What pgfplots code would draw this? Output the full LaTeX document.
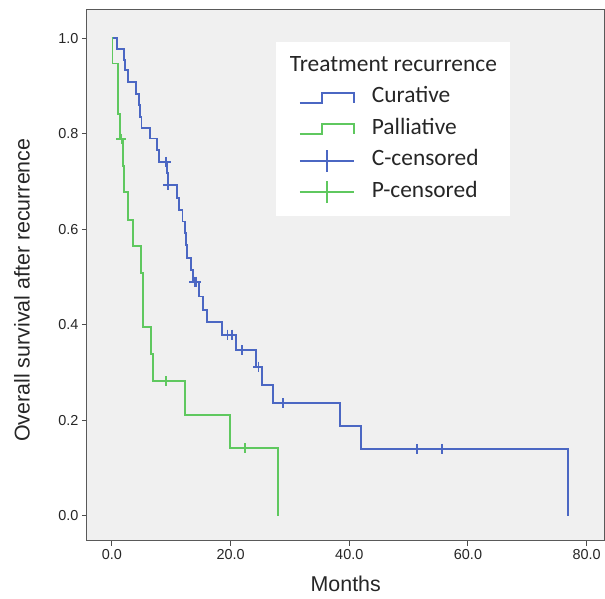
\documentclass[border=0pt]{standalone}
\usepackage{fontspec}
\setmainfont{Liberation Sans}
\newfontfamily\legfont{Carlito}
\usepackage{pgfplots}
\pgfplotsset{compat=1.18}

\definecolor{cblue}{RGB}{75,103,195}
\definecolor{cgreen}{RGB}{95,200,95}
\definecolor{panel}{RGB}{240,240,240}

\begin{document}
\begin{tikzpicture}
    \useasboundingbox (-87bp,-58bp) rectangle (518.5bp,541bp);
    \begin{axis}[
    scale only axis,
    width=518bp,
    height=531bp,
    xmin=-4.2, xmax=83.0,
    ymin=-0.052, ymax=1.059,
    xtick={0,20,40,60,80},
    ytick={0,0.2,0.4,0.6,0.8,1.0},
    xtick pos=left, ytick pos=left,
    tick align=outside,
    major tick length=5bp,
    tick style={black!70, line width=1bp},
    axis line style={black!65, line width=1bp},
    axis background/.style={fill=panel},
    /pgf/number format/assume math mode=true,
    xticklabel style={/pgf/number format/.cd, fixed, fixed zerofill, precision=1},
    yticklabel style={/pgf/number format/.cd, fixed, fixed zerofill, precision=1},
    ticklabel style={font=\fontsize{14.5}{17}\selectfont, text=black!85},
    xlabel={Months},
    ylabel={Overall survival after recurrence},
    label style={font=\fontsize{21.5}{26}\selectfont, text=black!85},
    xlabel style={at={(axis description cs:0.5,-0.081)}, anchor=center},
    ylabel style={at={(axis description cs:-0.1255,0.472)}, anchor=center},
    legend cell align=left,
    legend style={at={(axis description cs:0.365,0.9397)}, anchor=north west,
        draw=none, fill=white, font=\legfont\fontsize{23.5}{28}\selectfont,
        inner xsep=23bp, inner ysep=13bp, row sep=9.5bp, column sep=17bp,
        nodes={inner sep=0pt, text height=16bp, text depth=6bp, text=black!85}},
    ]
    \addlegendimage{empty legend}
    \addlegendentry{\makebox[115bp][l]{\hspace*{-82bp}Treatment recurrence}}

    % Curative
    \addplot[const plot, cblue, line width=1.9bp,
        legend image code/.code={\draw[cblue, line width=1.9bp] (0bp,-5bp) -- (22bp,-5bp) -- (22bp,5bp) -- (54bp,5bp) -- (54bp,-5bp);}]
    coordinates {
        (0,1.0) (0.8,0.978) (2.0,0.955) (2.2,0.933) (2.7,0.909)
        (4.0,0.884) (4.5,0.860) (4.8,0.835) (5.0,0.811) (6.4,0.790)
        (7.6,0.766) (7.9,0.741) (9.3,0.717) (9.4,0.692) (11.0,0.665)
        (11.3,0.641) (11.9,0.616) (12.3,0.592) (12.5,0.567) (12.7,0.539)
        (13.4,0.515) (13.7,0.490) (14.7,0.459) (15.4,0.431) (16.0,0.406)
        (18.5,0.379) (20.9,0.347) (24.3,0.312) (25.3,0.274) (27.2,0.236)
        (38.4,0.187) (41.9,0.140) (76.9,0)
    };
    \addlegendentry{Curative}

    % Palliative
    \addplot[const plot, cgreen, line width=1.9bp,
        legend image code/.code={\draw[cgreen, line width=1.9bp] (0bp,-5bp) -- (22bp,-5bp) -- (22bp,5bp) -- (54bp,5bp) -- (54bp,-5bp);}]
    coordinates {
        (0,1.0) (0.1,0.947) (1.0,0.842) (1.4,0.789) (1.9,0.733)
        (2.0,0.677) (2.7,0.620) (3.6,0.564) (4.9,0.508) (5.2,0.451)
        (5.3,0.395) (6.6,0.338) (6.9,0.282) (12.3,0.211) (19.9,0.141)
        (28.0,0)
    };
    \addlegendentry{Palliative}

    % censored
    \addplot[only marks, mark=+, mark size=5bp, cblue, mark options={line width=1.7bp},
        legend image code/.code={\draw[cblue, line width=1.9bp] (0bp,0bp) -- (54bp,0bp); \draw[cblue, line width=1.9bp, overlay] (27bp,-11bp) -- (27bp,11bp);}]
    coordinates {
        (9.1,0.741) (9.5,0.692) (13.9,0.490) (14.2,0.490) (19.5,0.379)
        (20.2,0.379) (21.9,0.347) (24.7,0.312) (28.8,0.236) (51.4,0.140)
        (55.6,0.140)
    };
    \addlegendentry{C-censored}

    \addplot[only marks, mark=+, mark size=5bp, cgreen, mark options={line width=1.7bp},
        legend image code/.code={\draw[cgreen, line width=1.9bp] (0bp,0bp) -- (54bp,0bp); \draw[cgreen, line width=1.9bp, overlay] (27bp,-11bp) -- (27bp,11bp);}]
    coordinates {
        (1.6,0.789) (9.1,0.282) (22.4,0.141)
    };
    \addlegendentry{P-censored}

    \end{axis}
\end{tikzpicture}
\end{document}
